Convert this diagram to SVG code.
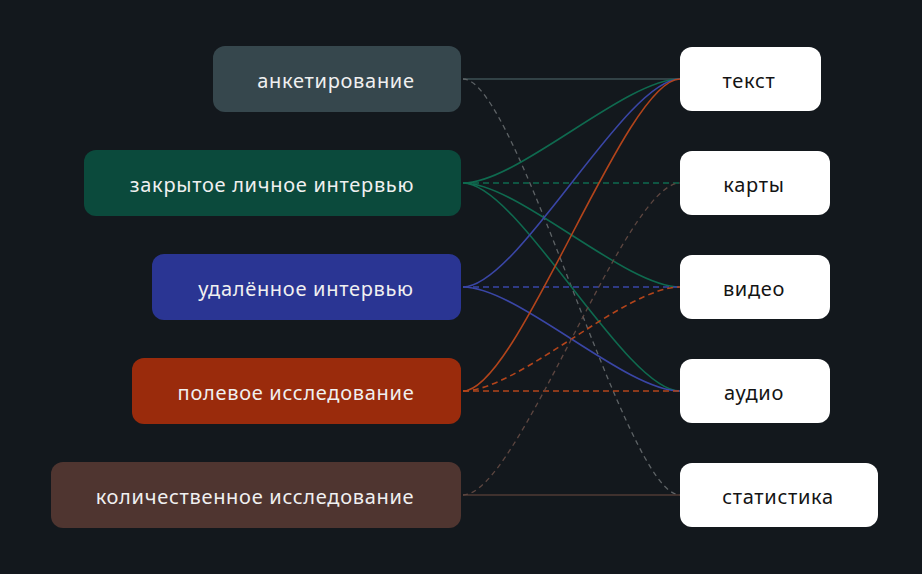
<svg xmlns="http://www.w3.org/2000/svg" width="922" height="574" viewBox="0 0 922 574">
<style>
.lbl{font-family:"Noto Sans","Open Sans","DejaVu Sans",sans-serif;font-size:20px;letter-spacing:0.7px;text-anchor:middle;dominant-baseline:central}
.lt{fill:#f0f0f0}
.dk{fill:#141414}
.c{fill:none;stroke-width:1.6}
.d{stroke-dasharray:6 4}
.g{stroke:#3e5055}
.gd{stroke:#5e6366;stroke-width:1.3;stroke-dasharray:5 4}
.gr{stroke:#0f6a4f}
.bl{stroke:#3a46a6}
.or{stroke:#b2441b}
.br{stroke:#4f3a35}
.brd{stroke:#5d4640;stroke-width:1.3;stroke-dasharray:5 4}
</style>
<rect width="922" height="574" fill="#13181d"/>
<g id="connectors">
<path class="c g" d="M463 79 L680 79"/>
<path class="c gd" d="M463 79 C518 79 625 495 680 495"/>
<path class="c gr" d="M463 183 C518 183 625 79 680 79"/>
<path class="c gr d" d="M463 183 L680 183"/>
<path class="c gr" d="M463 183 C518 183 625 287 680 287"/>
<path class="c gr" d="M463 183 C518 183 625 391 680 391"/>
<path class="c bl" d="M463 287 C518 287 625 79 680 79"/>
<path class="c bl d" d="M463 287 L680 287"/>
<path class="c bl" d="M463 287 C518 287 625 391 680 391"/>
<path class="c or" d="M463 391 C518 391 625 79 680 79"/>
<path class="c or d" d="M463 391 C518 391 625 287 680 287"/>
<path class="c or d" d="M463 391 L680 391"/>
<path class="c br" d="M463 495 L680 495"/>
<path class="c brd" d="M463 495 C518 495 625 183 680 183"/>
</g>
<g id="n-anketirovanie"><rect x="213" y="46" width="248" height="66" rx="12" fill="#36474d"/><text class="lbl lt" x="336" y="80">анкетирование</text></g>
<g id="n-zakrytoe"><rect x="84" y="150" width="377" height="66" rx="12" fill="#0b4a3c"/><text class="lbl lt" x="272" y="184">закрытое личное интервью</text></g>
<g id="n-udalennoe"><rect x="152" y="254" width="309" height="66" rx="12" fill="#2a3593"/><text class="lbl lt" x="306" y="288">удалённое интервью</text></g>
<g id="n-polevoe"><rect x="132" y="358" width="329" height="66" rx="12" fill="#9a2b0c"/><text class="lbl lt" x="296" y="392">полевое исследование</text></g>
<g id="n-kolich"><rect x="51" y="462" width="410" height="66" rx="12" fill="#4f3530"/><text class="lbl lt" x="255" y="496">количественное исследование</text></g>
<g id="n-tekst"><rect x="680" y="47" width="141" height="64" rx="12" fill="#ffffff"/><text class="lbl dk" x="749" y="80">текст</text></g>
<g id="n-karty"><rect x="680" y="151" width="150" height="64" rx="12" fill="#ffffff"/><text class="lbl dk" x="754" y="184">карты</text></g>
<g id="n-video"><rect x="680" y="255" width="150" height="64" rx="12" fill="#ffffff"/><text class="lbl dk" x="754" y="288">видео</text></g>
<g id="n-audio"><rect x="680" y="359" width="150" height="64" rx="12" fill="#ffffff"/><text class="lbl dk" x="754" y="392">аудио</text></g>
<g id="n-stat"><rect x="680" y="463" width="198" height="64" rx="12" fill="#ffffff"/><text class="lbl dk" x="778" y="496">статистика</text></g>
</svg>
